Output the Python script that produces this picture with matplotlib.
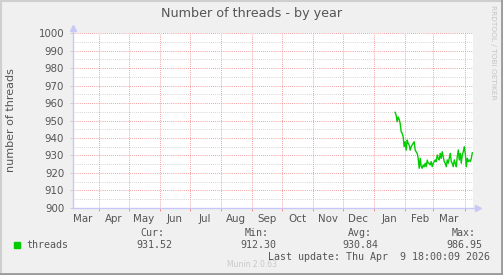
import numpy as np
import pandas as pd
import matplotlib
matplotlib.use("Agg")
import matplotlib.pyplot as plt
from matplotlib.lines import Line2D

# ---- data ----
series_start = "2026-01-21 18:00"
threads = [954.7, 953.0, 949.3, 952.0, 950.7, 948.4, 943.6, 942.7, 940.7, 935.0,
           937.8, 933.0, 938.8, 936.9, 936.0, 933.0, 935.0, 936.0, 937.0, 937.8,
           933.0, 932.0, 931.2, 928.3, 922.6, 928.3, 923.5, 922.6, 924.5, 923.5,
           925.5, 923.5, 927.3, 925.5, 925.5, 924.5, 926.4, 923.5, 925.5, 926.4,
           927.4, 926.4, 930.2, 928.3, 927.4, 931.2, 928.3, 932.1, 929.3, 926.4,
           925.5, 923.5, 927.4, 925.5, 928.3, 931.2, 926.4, 925.5, 923.5, 927.4,
           925.5, 923.5, 929.3, 933.1, 927.4, 931.2, 925.5, 930.2, 932.1, 935.0,
           931.2, 923.5, 928.3, 926.4, 927.4, 926.4, 928.3, 931.5]
x_start = "2025-03-05 18:00"
x_end = "2026-04-09 18:00"
y_ticks = [900, 910, 920, 930, 940, 950, 960, 970, 980, 990, 1000]
month_starts = pd.date_range("2025-04-01", "2026-04-01", freq="MS")
month_labels = ["Mar", "Apr", "May", "Jun", "Jul", "Aug", "Sep", "Oct", "Nov",
                "Dec", "Jan", "Feb", "Mar"]
month_label_dates = pd.to_datetime(["2025-03-16", "2025-04-16", "2025-05-16", "2025-06-16",
                                    "2025-07-16", "2025-08-16", "2025-09-16", "2025-10-16",
                                    "2025-11-16", "2025-12-16", "2026-01-16", "2026-02-16",
                                    "2026-03-16"])
legend_name = "threads"
stat_labels = ["Cur:", "Min:", "Avg:", "Max:"]
stat_values = ["931.52", "912.30", "930.84", "986.95"]
last_update = "Last update: Thu Apr  9 18:00:09 2026"

W, H = 503, 275
fig = plt.figure(figsize=(W / 100, H / 100), dpi=100, facecolor="#F0F0F0")

def fx(px):
    return px / W

def fy(py):
    return 1 - py / H

# border
fig.add_artist(Line2D([fx(0.5), fx(0.5)], [0, 1], color="#CFCFCF", lw=1.5, transform=fig.transFigure))
fig.add_artist(Line2D([0, 1], [fy(0.5), fy(0.5)], color="#CFCFCF", lw=1.5, transform=fig.transFigure))
fig.add_artist(Line2D([fx(502), fx(502)], [0, 1], color="#9A9A9A", lw=2, transform=fig.transFigure))
fig.add_artist(Line2D([0, 1], [fy(274), fy(274)], color="#9A9A9A", lw=2, transform=fig.transFigure))

L, R, T, B = 72.5, 473.3, 33.3, 207.7
ax = fig.add_axes([fx(L), fy(B), fx(R - L), (B - T) / H])
ax.set_facecolor("white")

xs = pd.date_range(series_start, periods=len(threads), freq="D")
ax.plot(xs, threads, color="#00CC00", lw=1.0, zorder=3)

ax.set_xlim(pd.Timestamp(x_start), pd.Timestamp(x_end))
ax.set_ylim(900, 1000)

# grids
for v in np.arange(905, 1000, 10):
    ax.axhline(v, color="#C8C8C8", lw=0.6, ls=(0, (1, 1.5)), zorder=1)
for v in y_ticks[1:]:
    ax.axhline(v, color="#F08080", lw=0.6, ls=(0, (1, 1.5)), zorder=1.5)
for d in month_starts:
    ax.axvline(d, color="#F08080", lw=0.6, ls=(0, (1, 1.5)), zorder=1.5)

for s in ax.spines.values():
    s.set_visible(False)

ax.set_yticks(y_ticks)
ax.set_yticklabels([str(v) for v in y_ticks])
ax.set_xticks(month_starts)
ax.set_xticklabels([])
ax.tick_params(axis="y", length=2, width=0.6, color="#C8C8C8", labelsize=7.4,
               labelcolor="#555555", pad=4)
ax.tick_params(axis="x", length=2, width=0.6, color="#F08080")
for d, lab in zip(month_label_dates, month_labels):
    ax.text(d, -0.035, lab, transform=ax.get_xaxis_transform(), ha="center", va="top",
            fontsize=7.4, color="#555555")

# axis lines with arrows
axc = "#C8C8F8"
fig.add_artist(Line2D([fx(L), fx(L)], [fy(B), fy(29)], color=axc, lw=1, transform=fig.transFigure))
fig.add_artist(Line2D([fx(L), fx(478)], [fy(B), fy(B)], color=axc, lw=1, transform=fig.transFigure))
fig.add_artist(Line2D([fx(L)], [fy(28)], marker="^", markersize=4, color=axc, lw=0, transform=fig.transFigure))
fig.add_artist(Line2D([fx(478)], [fy(B)], marker=">", markersize=4, color=axc, lw=0, transform=fig.transFigure))

# title and labels
fig.text(fx(251.5), fy(13.5), "Number of threads - by year", ha="center", va="center",
         fontsize=9.2, color="#555555")
fig.text(fx(11), fy(120), "number of threads", rotation=90, ha="center", va="center",
         fontsize=8.0, color="#555555")
fig.text(fx(493), fy(5), "RRDTOOL / TOBI OETIKER", rotation=270, ha="center", va="top",
         fontsize=5.3, color="#C4C4C4")

# legend
fig.add_artist(plt.Rectangle((fx(14), fy(248)), fx(6), 6 / H, color="#00CC00",
                             transform=fig.transFigure))
mono = "DejaVu Sans Mono"
fig.text(fx(26.5), fy(245), legend_name, ha="left", va="center", fontsize=7.2,
         family=mono, color="#555555")
lab_right = [164.5, 268.5, 371.5, 475.3]
val_right = [172, 276.3, 378.5, 482.5]
for lab, lr, val, vr in zip(stat_labels, lab_right, stat_values, val_right):
    fig.text(fx(lr), fy(233.5), lab, ha="right", va="center", fontsize=7.2, family=mono,
             color="#555555")
    fig.text(fx(vr), fy(245), val, ha="right", va="center", fontsize=7.2, family=mono,
             color="#555555")
fig.text(fx(489.5), fy(257.5), last_update, ha="right", va="center", fontsize=7.2,
         family=mono, color="#555555")
fig.text(fx(252), fy(264.5), "Munin 2.0.63", ha="center", va="center", fontsize=5.5,
         color="#C8C8C8")

fig.savefig("out.png", dpi=100, facecolor=fig.get_facecolor())
